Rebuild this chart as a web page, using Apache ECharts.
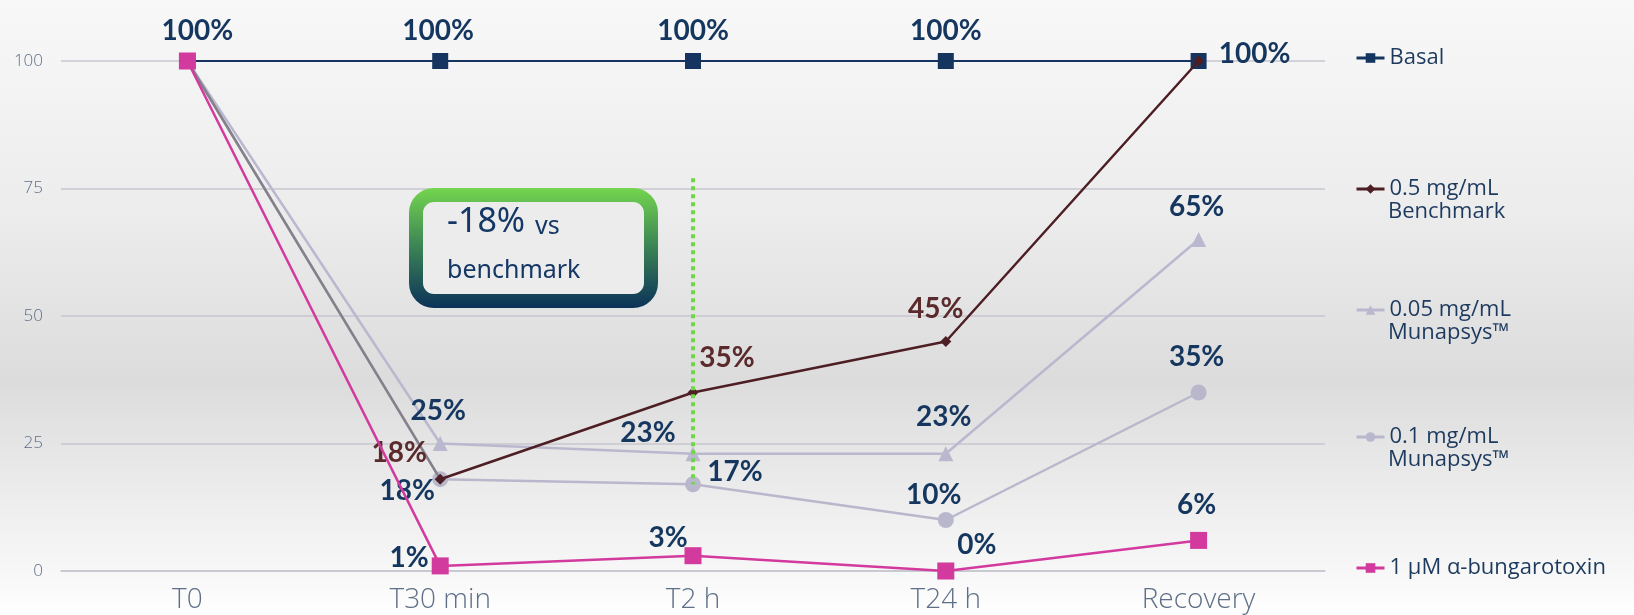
<!DOCTYPE html>
<html>
<head>
<meta charset="utf-8">
<script src="https://cdn.jsdelivr.net/npm/echarts@6/dist/echarts.min.js"></script>
<style>
html,body{margin:0;padding:0;}
#chart{width:1634px;height:615px;}
</style>
</head>
<body>
<div id="chart"></div>
<script>
// ---- data ----
const categories = ['T0', 'T30 min', 'T2 h', 'T24 h', 'Recovery'];
const yTicks = [0, 25, 50, 75, 100];
const basal = [100, 100, 100, 100, 100];
const benchmark = [100, 18, 35, 45, 100];
const munapsys005 = [100, 25, 23, 23, 65];
const munapsys01 = [100, 18, 17, 10, 35];
const bungarotoxin = [100, 1, 3, 0, 6];
const seriesNames = ['Basal', '0.5 mg/mL Benchmark', '0.05 mg/mL Munapsys™', '0.1 mg/mL Munapsys™', '1 µM α-bungarotoxin'];
const legendFirstLines = ['Basal', '0.5 mg/mL', '0.05 mg/mL', '0.1 mg/mL', '1 µM α-bungarotoxin'];
const legendSecondLines = ['', 'Benchmark', 'Munapsys™', 'Munapsys™', ''];
const annotationMain = '-18%';
const annotationRest = ['vs', 'benchmark'];
const highlightRange = [17, 77];

// ---- styles / layout ----
const NAVY = '#15375f';
const MAROON = '#5a2a2c';
const labelFont = 'Lato, "Open Sans", sans-serif';

// label offsets (dx, dy) from point, null = hidden
const offsets = {
  basal: [[10, -30], [-2, -30], [0, -30], [0, -30], [56, -7]],
  benchmark: [null, [-41, -26], [34, -35], [-10, -33], null],
  m005: [null, [-2, -33], [-45, -21], [-2, -37], [-2, -33]],
  m01: [null, [-33, 12], [42, -12], [-12, -25], [-2, -36]],
  bung: [null, [-31, -8], [-25, -18], [31, -26], [-2, -35]]
};

function buildData(values, offs, color) {
  return values.map((v, i) => ({
    value: v,
    label: offs[i] ? {
      show: true, position: 'inside', offset: offs[i],
      formatter: '{c}%', color: color, fontSize: 28, fontWeight: 'bold', fontFamily: labelFont
    } : { show: false }
  }));
}

const chart = echarts.init(document.getElementById('chart'));

const gridLeft = 61, gridRight = 309, gridTop = 61, gridBottom = 44;

function lineSeries(name, values, offs, lineColor, symbol, symbolSize, labelColor, lineWidth, z, symbolColor) {
  return {
    name: name, type: 'line', data: buildData(values, offs, labelColor),
    symbol: symbol, symbolSize: symbolSize, z: z,
    lineStyle: { color: lineColor, width: lineWidth },
    itemStyle: { color: symbolColor || lineColor },
    emphasis: { disabled: true },
    animation: false
  };
}

// benchmark line: first segment greyish as in the reference
const benchLine = new echarts.graphic.LinearGradient(0, 0, 1, 0, [
  { offset: 0, color: '#85818a' }, { offset: 0.25, color: '#85818a' },
  { offset: 0.25, color: '#4d1e23' }, { offset: 1, color: '#4d1e23' }
]);

const series = [
  lineSeries(seriesNames[0], basal, offsets.basal, '#15345f', 'rect', 16, NAVY, 2, 3),
  lineSeries(seriesNames[1], benchmark, offsets.benchmark, benchLine, 'diamond', 11, MAROON, 2.5, 4, '#4d1e23'),
  lineSeries(seriesNames[2], munapsys005, offsets.m005, '#bab8cf', 'triangle', 15, NAVY, 2.5, 2),
  lineSeries(seriesNames[3], munapsys01, offsets.m01, '#b9b7cc', 'circle', 16, NAVY, 2.5, 2),
  lineSeries(seriesNames[4], bungarotoxin, offsets.bung, '#d33a9d', 'rect', 17, NAVY, 2.5, 5)
];

// green dotted highlight line at T2 h
series[2].markLine = {
  silent: true, symbol: ['none', 'none'], label: { show: false },
  lineStyle: { color: '#6fd646', width: 4, type: [4, 4] },
  data: [[{ coord: [categories[2], highlightRange[1]] }, { coord: [categories[2], highlightRange[0]] }]]
};

const legendCenters = [58, 189, 310, 437, 568];
const legendIconColors = ['#15345f', '#4d1e23', '#bab8cf', '#b9b7cc', '#d33a9d'];
const legends = seriesNames.map((n, i) => ({
  data: [{ name: n, itemStyle: { color: legendIconColors[i] }, lineStyle: { color: legendIconColors[i], width: 3 } }],
  left: 1355, top: legendCenters[i] - 12, orient: 'vertical', padding: 0,
  itemWidth: 28, itemHeight: 12, selectedMode: false,
  formatter: () => legendFirstLines[i],
  textStyle: { color: '#1d3a5e', fontSize: 22, fontFamily: '"Open Sans", sans-serif', lineHeight: 24 }
}));

const graphics = [];
legendSecondLines.forEach((t, i) => {
  if (!t) return;
  graphics.push({
    type: 'text', left: 1388, top: legendCenters[i] + 12,
    style: { text: t, fill: '#1d3a5e', font: '22px "Open Sans", sans-serif' }
  });
});

// annotation box
graphics.push({
  type: 'rect', left: 409, top: 188, z: 10,
  shape: { width: 235, height: 106, r: 18 },
  style: {
    fill: '#ececec', lineWidth: 14,
    stroke: new echarts.graphic.LinearGradient(0, 0, 0, 1, [
      { offset: 0, color: '#74d54e' }, { offset: 0.45, color: '#3f8a55' }, { offset: 1, color: '#0b3258' }
    ])
  }
});
graphics.push({
  type: 'text', left: 447, top: 205, z: 11,
  style: {
    text: '{a|' + annotationMain + '}{s| }{b|' + annotationRest[0] + '}\n{b|' + annotationRest[1] + '}',
    rich: {
      a: { fontSize: 34, fontFamily: '"Noto Sans", sans-serif', fill: '#143766', lineHeight: 44, verticalAlign: 'bottom' },
      s: { width: 10, fontSize: 25, lineHeight: 44 },
      b: { fontSize: 25, fontFamily: '"Noto Sans", sans-serif', fill: '#143766', lineHeight: 44, verticalAlign: 'bottom' }
    }
  }
});

chart.setOption({
  animation: false,
  backgroundColor: new echarts.graphic.LinearGradient(0, 0, 0, 1, [
    { offset: 0, color: '#f8f8f8' },
    { offset: 0.35, color: '#ececec' },
    { offset: 0.62, color: '#dcdcdc' },
    { offset: 0.8, color: '#ececec' },
    { offset: 0.95, color: '#f9f9f9' },
    { offset: 1, color: '#ffffff' }
  ]),
  grid: { left: gridLeft, right: gridRight, top: gridTop, bottom: gridBottom, containLabel: false },
  legend: legends,
  xAxis: {
    type: 'category', data: categories, boundaryGap: true,
    axisTick: { show: false },
    axisLine: { show: true, lineStyle: { color: '#c6c6ce', width: 1.5 } },
    axisLabel: { fontSize: 28, color: '#5e6f87', fontWeight: 300, fontFamily: '"Open Sans", sans-serif', margin: 15 }
  },
  yAxis: {
    type: 'value', min: yTicks[0], max: yTicks[yTicks.length - 1], interval: yTicks[1] - yTicks[0],
    axisLine: { show: false }, axisTick: { show: false },
    axisLabel: { fontSize: 17, color: '#5e6f87', fontFamily: '"Open Sans", sans-serif', fontWeight: 300, margin: 18 },
    splitLine: { lineStyle: { color: '#c6c6ce', width: 1.5 } }
  },
  graphic: graphics,
  series: series
});
</script>
</body>
</html>
